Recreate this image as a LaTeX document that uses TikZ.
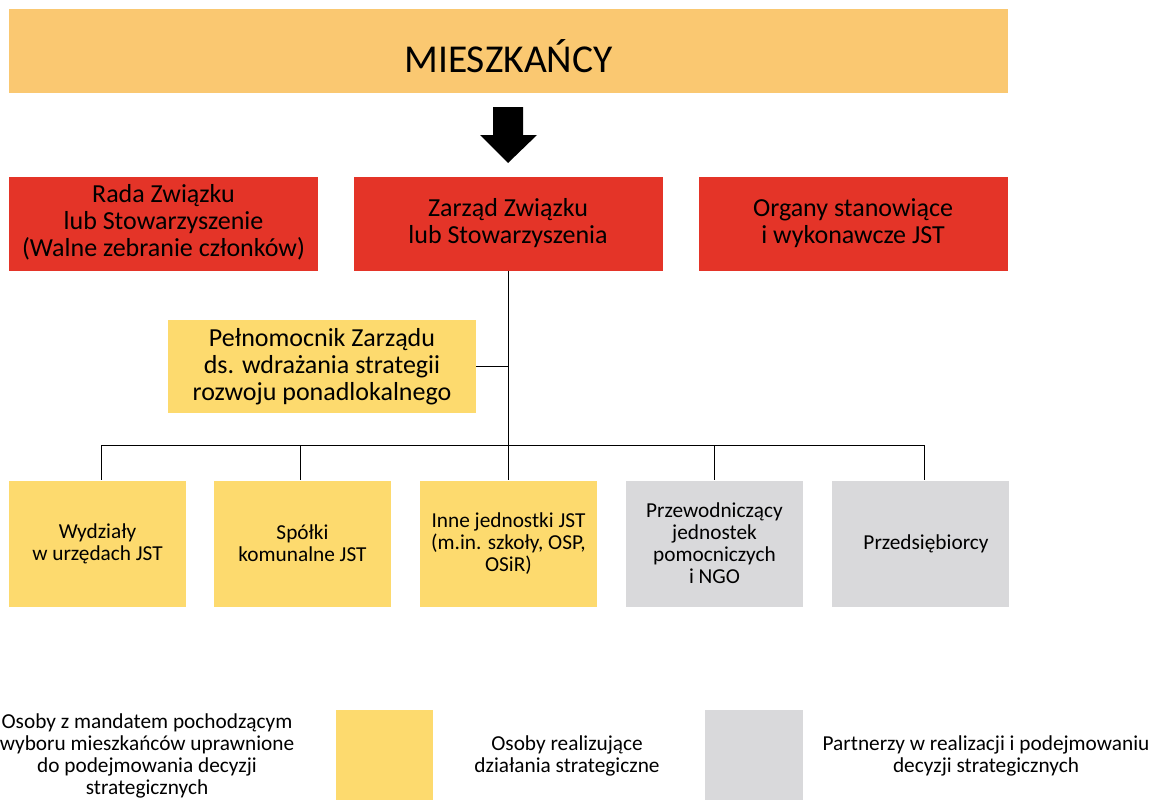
\documentclass[tikz,border=0pt]{standalone}
\usepackage{fontspec}
\setmainfont{Carlito}
\definecolor{orangeA}{HTML}{FAC871}
\definecolor{redA}{HTML}{E43428}
\definecolor{yellowA}{HTML}{FDDA6E}
\definecolor{grayA}{HTML}{D9D9DB}
\begin{document}
\begin{tikzpicture}[x=1pt,y=-1pt,
  box/.style={inner sep=0pt, align=center, text=black},
  redbox/.style={box, fill=redA, minimum width=309pt, minimum height=94pt, font=\fontsize{26}{27}\selectfont},
  smallbox/.style={box, minimum width=177pt, minimum height=126pt, font=\fontsize{21.3}{22}\selectfont},
  ybox/.style={smallbox, fill=yellowA},
  gbox/.style={smallbox, fill=grayA},
  legtext/.style={align=center, inner sep=0pt, font=\fontsize{21.3}{22}\selectfont},
  conn/.style={draw=black, line width=1pt}
]
\useasboundingbox (0,0) rectangle (1154,800);
\node[box, fill=orangeA, minimum width=999pt, minimum height=84pt, font=\fontsize{39.5}{44}\selectfont] (mies) at (508.5,51) {\raisebox{0pt}[\dimexpr\height+10pt\relax]{MIESZKAŃCY}};
\fill[black] (493,107) -- (523,107) -- (523,135) -- (537,135) -- (508,163) -- (480,135) -- (493,135) -- cycle;
\node[redbox] (rada) at (163.5,223.5) {Rada Związku\\lub Stowarzyszenie\\(Walne zebranie członków)\rule[-6pt]{0pt}{1pt}};
\node[redbox] (zarz) at (508,223.5) {Zarząd Związku\\lub Stowarzyszenia};
\node[redbox] (org) at (853,223.5) {Organy stanowiące\\i wykonawcze JST};
\node[box, fill=yellowA, minimum width=308pt, minimum height=93pt, font=\fontsize{26}{27}\selectfont] (peln) at (322,366.5) {Pełnomocnik Zarządu\\ds. wdrażania strategii\\rozwoju ponadlokalnego};
\node[ybox] (wyd) at (97.5,543.5) {Wydziały\\w urzędach JST};
\node[ybox] (spo) at (302.5,543.5) {Spółki\\komunalne JST};
\node[ybox] (inne) at (508.5,543.5) {Inne jednostki JST\\(m.in. szkoły, OSP,\\OSiR)};
\node[gbox] (prze) at (714.5,543.5) {Przewodniczący\\jednostek\\pomocniczych\\i NGO};
\node[gbox] (przed) at (920.5,543.5) {\hspace*{11pt}Przedsiębiorcy};
\coordinate (bus) at (508,445);
\coordinate (busL) at (101,445);
\coordinate (busR) at (924,445);
\draw[conn] (zarz.south) -- (bus);
\draw[conn] (peln.east) -- (peln.east -| zarz.south);
\draw[conn] (busL) -- (busR);
\draw[conn] (busL) -- (busL |- wyd.north);
\draw[conn] ([xshift=-2.5pt]spo.north |- bus) -- ([xshift=-2.5pt]spo.north);
\draw[conn] (inne.north |- bus) -- (inne.north);
\draw[conn] (prze.north |- bus) -- (prze.north);
\draw[conn] (busR) -- (busR |- przed.north);
% legend
\node[legtext] (l1) at (147,756) {Osoby z mandatem pochodzącym\\wyboru mieszkańców uprawnione\\do podejmowania decyzji\\strategicznych};
\node[box, fill=yellowA, minimum width=97pt, minimum height=90pt] (ly) at (384.5,755) {};
\node[legtext] (l2) at (567,756) {Osoby realizujące\\działania strategiczne};
\node[box, fill=grayA, minimum width=98pt, minimum height=90pt] (lg) at (754,755) {};
\node[legtext] (l3) at (986,756) {Partnerzy w realizacji i podejmowaniu\\decyzji strategicznych};
\end{tikzpicture}
\end{document}
